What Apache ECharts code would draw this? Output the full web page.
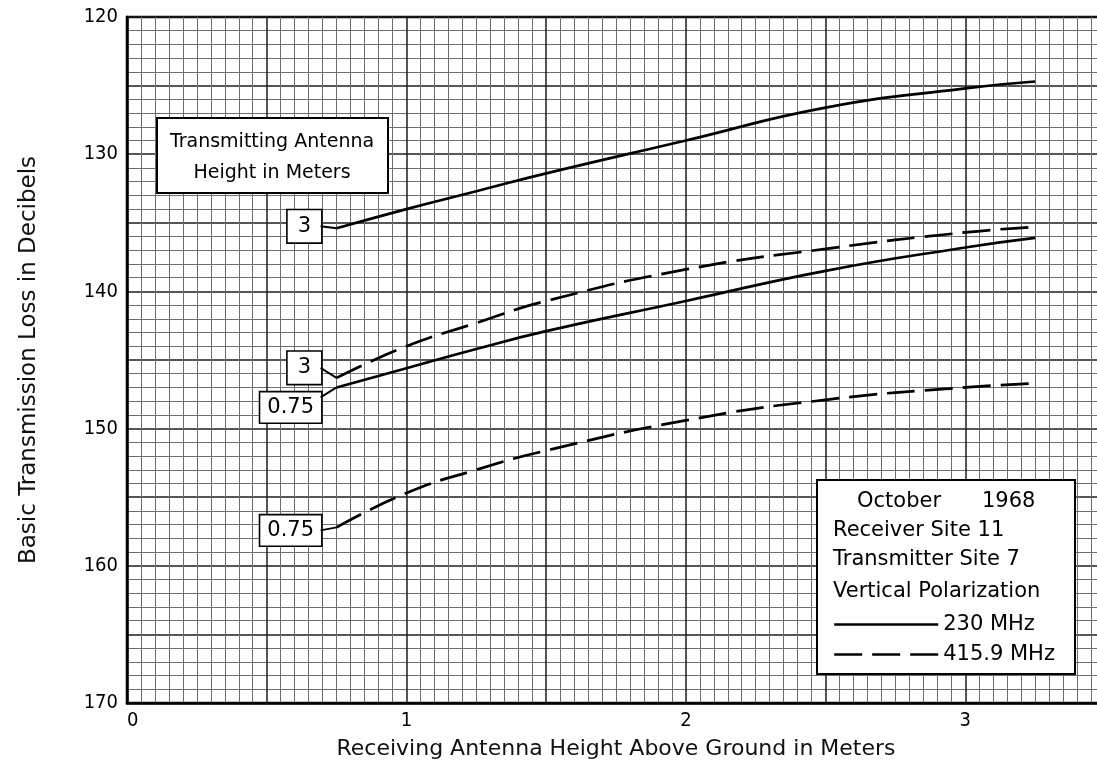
<!DOCTYPE html>
<html>
<head>
<meta charset="utf-8">
<script src="https://cdn.jsdelivr.net/npm/echarts@6/dist/echarts.min.js"></script>
<style>
html,body{margin:0;padding:0;background:#fff;}
#chart{width:1097px;height:770px;}
</style>
</head>
<body>
<div id="chart"></div>
<script>
// ---- data ----
const receiverHeights = [0.75, 1.0, 1.25, 1.5, 2.0, 2.5, 3.0, 3.25]; // m
const loss230_tx3   = [135.4, 134.0, 132.7, 131.4, 129.0, 126.6, 125.2, 124.7];
const loss416_tx3   = [146.3, 144.0, 142.3, 140.7, 138.4, 136.9, 135.7, 135.3];
const loss230_tx075 = [147.0, 145.6, 144.2, 142.9, 140.7, 138.5, 136.8, 136.1];
const loss416_tx075 = [157.2, 154.7, 153.0, 151.6, 149.4, 147.9, 147.0, 146.7];
const seriesNames = ['230 MHz', '415.9 MHz'];
const txLabels = ['3', '0.75'];
const xTickLabels = ['0', '1', '2', '3'];
const yTickLabels = ['120', '130', '140', '150', '160', '170'];
const infoLines = ['Receiver Site 11', 'Transmitter Site 7', 'Vertical Polarization'];
const infoMonth = 'October';
const infoYear = '1968';
const boxTitle = ['Transmitting Antenna', 'Height in Meters'];

const FONT = "'DejaVu Sans', sans-serif";
const NARROW = "'Liberation Sans Narrow', 'DejaVu Sans Condensed', 'Liberation Sans', sans-serif";

function pairs(vals) { return receiverHeights.map((x, i) => [x, vals[i]]); }

function makeSeries(name, vals, dashed, label, dy, pad) {
  const d = pairs(vals);
  return {
    type: 'line', name: name, data: d, smooth: true, symbol: 'none', showSymbol: false,
    lineStyle: { color: '#000', width: 2.7, type: dashed ? [28, 10] : 'solid' },
    itemStyle: { color: '#000' },
    z: 5, silent: true, animation: false,
    markPoint: {
      silent: true, animation: false,
      data: [{
        coord: d[0], symbol: 'rect', symbolSize: 1,
        itemStyle: { color: 'rgba(0,0,0,0)' },
        label: {
          show: true, position: 'left', distance: 15, offset: [0, dy],
          formatter: label, fontFamily: FONT, fontSize: 21, color: '#000',
          backgroundColor: '#fff', borderColor: '#000', borderWidth: 1.6,
          padding: pad
        }
      }]
    }
  };
}

const series = [
  makeSeries(seriesNames[0], loss230_tx3, false, txLabels[0], -2, [6, 10, 5, 10]),
  makeSeries(seriesNames[1], loss416_tx3, true, txLabels[0], -10, [6, 10, 5, 10]),
  makeSeries(seriesNames[0], loss230_tx075, false, txLabels[1], 20, [5, 7, 4, 7]),
  makeSeries(seriesNames[1], loss416_tx075, true, txLabels[1], 3, [5, 7, 4, 7])
];

const chart = echarts.init(document.getElementById('chart'), null, { renderer: 'canvas' });
const option = {
  animation: false,
  backgroundColor: '#fff',
  grid: { left: 127, top: 17, width: 978, bottom: 67, outerBoundsMode: 'none', containLabel: false,
    show: true, borderColor: '#000', borderWidth: 2.5, backgroundColor: 'transparent' },
  xAxis: {
    type: 'value', min: 0, max: 3.5, interval: 0.5,
    name: 'Receiving Antenna Height Above Ground in Meters',
    nameLocation: 'middle', nameGap: 35,
    nameTextStyle: { fontFamily: FONT, fontSize: 22, color: '#111' },
    axisLine: { show: true, lineStyle: { color: '#000', width: 2.5 } },
    axisTick: { show: false },
    axisLabel: {
      margin: 8, fontFamily: NARROW, fontSize: 20, color: '#000', alignMinLabel: 'left',
      formatter: v => xTickLabels.includes(String(v)) ? String(v) : ''
    },
    splitLine: { show: true, lineStyle: { color: '#1e1e1e', width: 1.5 } },
    minorTick: { show: false, splitNumber: 10 },
    minorSplitLine: { show: true, lineStyle: { color: '#6e6e6e', width: 1 } }
  },
  yAxis: {
    type: 'value', inverse: true, min: 120, max: 170, interval: 5,
    name: 'Basic Transmission Loss in Decibels',
    nameLocation: 'middle', nameGap: 86,
    nameTextStyle: { fontFamily: FONT, fontSize: 23, color: '#111' },
    axisLine: { show: true, lineStyle: { color: '#000', width: 2.5 } },
    axisTick: { show: false },
    axisLabel: {
      margin: 9, fontFamily: NARROW, fontSize: 20, color: '#000',
      formatter: v => yTickLabels.includes(String(v)) ? String(v) : ''
    },
    splitLine: { show: true, lineStyle: { color: '#1e1e1e', width: 1.5 } },
    minorTick: { show: false, splitNumber: 5 },
    minorSplitLine: { show: true, lineStyle: { color: '#6e6e6e', width: 1 } }
  },
  legend: {
    show: true, orient: 'vertical', left: 833, top: 614, z: 200,
    data: seriesNames, selectedMode: false,
    itemWidth: 104, itemHeight: 16, itemGap: 9,
    itemStyle: { color: 'rgba(0,0,0,0)', borderColor: 'rgba(0,0,0,0)', borderWidth: 0, opacity: 0 },
    lineStyle: { color: '#000', width: 2.4 },
    textStyle: { fontFamily: FONT, fontSize: 21, color: '#000' },
    padding: 0
  },
  series: series
};
chart.setOption(option);

// annotation boxes + connectors (connector positions from the library's scales)
const TXT = "19px 'DejaVu Sans', sans-serif";
const TXT2 = "21px 'DejaVu Sans', sans-serif";
const graphics = [];
graphics.push({ type: 'rect', z: 100, shape: { x: 157, y: 118, width: 231, height: 75 },
  style: { fill: '#fff', stroke: '#000', lineWidth: 2 } });
boxTitle.forEach((t, i) => graphics.push({ type: 'text', z: 101, x: 272, y: 142 + i * 31,
  style: { text: t, fill: '#000', font: TXT, textAlign: 'center', textVerticalAlign: 'middle' } }));

graphics.push({ type: 'rect', z: 100, shape: { x: 817, y: 480, width: 258, height: 194 },
  style: { fill: '#fff', stroke: '#000', lineWidth: 2 } });
graphics.push({ type: 'text', z: 101, x: 857, y: 502,
  style: { text: infoMonth, fill: '#000', font: TXT2, textAlign: 'left', textVerticalAlign: 'middle' } });
graphics.push({ type: 'text', z: 101, x: 982, y: 502,
  style: { text: infoYear, fill: '#000', font: TXT2, textAlign: 'left', textVerticalAlign: 'middle' } });
const infoY = [531, 560, 592];
infoLines.forEach((t, i) => graphics.push({ type: 'text', z: 101, x: 833, y: infoY[i],
  style: { text: t, fill: '#000', font: TXT2, textAlign: 'left', textVerticalAlign: 'middle' } }));

const dys = [-2, -10, 20, 3];
series.forEach((s, i) => {
  const p = chart.convertToPixel({ gridIndex: 0 }, s.data[0]);
  const off = Math.max(-10, Math.min(10, dys[i]));
  graphics.push({ type: 'line', z: 6, shape: { x1: p[0] - 16, y1: p[1] + off, x2: p[0], y2: p[1] },
    style: { stroke: '#000', lineWidth: 2 } });
});
chart.setOption({ graphic: graphics });
</script>
</body>
</html>
